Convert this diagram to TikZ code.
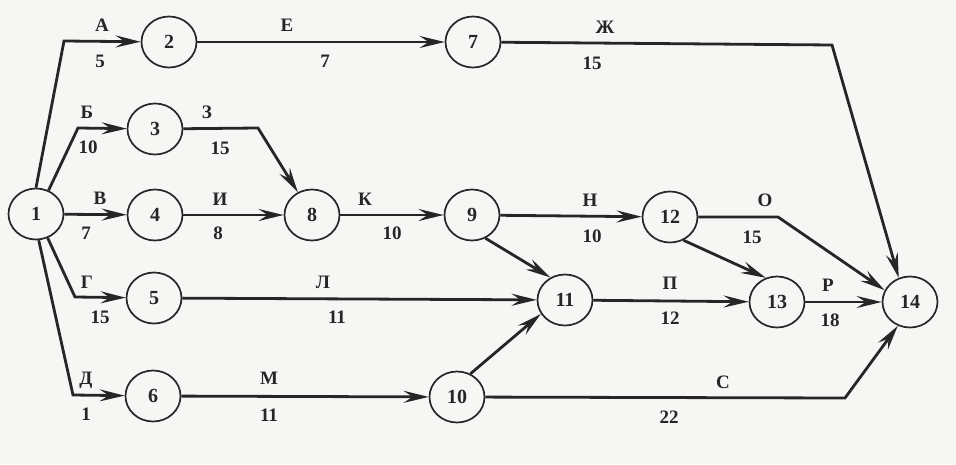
\documentclass[tikz,border=0pt]{standalone}
\usepackage{fontspec}
\setmainfont{Liberation Serif}[BoldFont={Liberation Serif Bold}]
\usetikzlibrary{shapes.geometric,arrows.meta}
\definecolor{ink}{HTML}{262626}
\definecolor{paper}{HTML}{F6F6F4}
\begin{document}
\begin{tikzpicture}[x=1pt,y=-1pt,
  ev/.style={ellipse, draw=ink, line width=1.7pt, minimum width=55pt, minimum height=51pt,
    inner sep=0pt, font=\fontsize{20}{22}\selectfont\bfseries, text=ink},
  job/.style={draw=ink, line width=2.8pt, -{Stealth[length=25pt,width=12pt,inset=9pt]}},
  lbl/.style={font=\fontsize{19}{21}\selectfont\bfseries, text=ink, inner sep=0pt}]
\fill[paper] (0,0) rectangle (956,464);
\useasboundingbox (0,0) rectangle (956,464);
% events
\node[ev] (n1) at (36,214) {1};
\node[ev] (n2) at (169,42) {2};
\node[ev] (n7) at (473,42) {7};
\node[ev] (n3) at (155,129) {3};
\node[ev] (n4) at (155,215) {4};
\node[ev] (n8) at (312,215) {8};
\node[ev] (n9) at (472,215) {9};
\node[ev] (n12) at (670,217) {12};
\node[ev] (n5) at (154,298) {5};
\node[ev] (n6) at (153,396) {6};
\node[ev] (n10) at (457,397) {10};
\node[ev] (n11) at (565,300) {11};
\node[ev] (n13) at (777,302) {13};
\node[ev] (n14) at (910,302) {14};
% bend points
\coordinate (cA) at (64,41);
\coordinate (cB) at (78,128);
\coordinate (cG) at (75,297);
\coordinate (cD) at (73,395);
\coordinate (cZh) at (832,45);
\coordinate (cZ) at (258,128);
\coordinate (cO) at (778,217);
\coordinate (cS) at (845,398);
% jobs
\draw[job] (n1.north) -- (cA) -- (n2);
\draw[job] (n1.62) -- (cB) -- (n3);
\draw[job] (n1) -- (n4);
\draw[job] (n1.-64) -- (cG) -- (n5);
\draw[job] (n1.-84) -- (cD) -- (n6);
\draw[job] (n2) -- (n7);
\draw[job] (n7) -- (cZh) -- (n14.115);
\draw[job] (n3) -- (cZ) -- (n8);
\draw[job] (n4) -- (n8);
\draw[job] (n8) -- (n9);
\draw[job] (n9) -- (n12);
\draw[job] (n9.-60) -- (n11.123);
\draw[job] (n5) -- (n11);
\draw[job] (n6) -- (n10);
\draw[job] (n10.60) -- (n11.210);
\draw[job] (n11) -- (n13);
\draw[job] (n12.-60) -- (n13.115);
\draw[job] (n12) -- (cO) -- (n14.155);
\draw[job] (n13) -- (n14);
\draw[job] (n10) -- (cS) -- (n14.243);
% labels
\node[lbl] (lA) at (102,25) {А};
\node[lbl] (dA) at (100,61) {5};
\node[lbl] (lB) at (87,112) {Б};
\node[lbl] (dB) at (88,147) {10};
\node[lbl] (lV) at (100,198) {В};
\node[lbl] (dV) at (86,233) {7};
\node[lbl] (lG) at (87,282) {Г};
\node[lbl] (dG) at (100,317) {15};
\node[lbl] (lD) at (86,380) {Д};
\node[lbl] (dD) at (86,414) {1};
\node[lbl] (lE) at (287,25) {Е};
\node[lbl] (dE) at (325,61) {7};
\node[lbl] (lZh) at (605,27) {Ж};
\node[lbl] (dZh) at (592,63) {15};
\node[lbl] (lZ) at (207,112) {З};
\node[lbl] (dZ) at (220,148) {15};
\node[lbl] (lI) at (220,199) {И};
\node[lbl] (dI) at (218,233) {8};
\node[lbl] (lK) at (365,199) {К};
\node[lbl] (dK) at (392,233) {10};
\node[lbl] (lN) at (590,200) {Н};
\node[lbl] (dN) at (592,236) {10};
\node[lbl] (lO) at (765,200) {О};
\node[lbl] (dO) at (752,237) {15};
\node[lbl] (lL) at (323,282) {Л};
\node[lbl] (dL) at (337,317) {11};
\node[lbl] (lM) at (269,378) {М};
\node[lbl] (dM) at (269,415) {11};
\node[lbl] (lP) at (670,283) {П};
\node[lbl] (dP) at (670,318) {12};
\node[lbl] (lR) at (828,285) {Р};
\node[lbl] (dR) at (830,320) {18};
\node[lbl] (lS) at (723,382) {С};
\node[lbl] (dS) at (669,417) {22};
\end{tikzpicture}
\end{document}
